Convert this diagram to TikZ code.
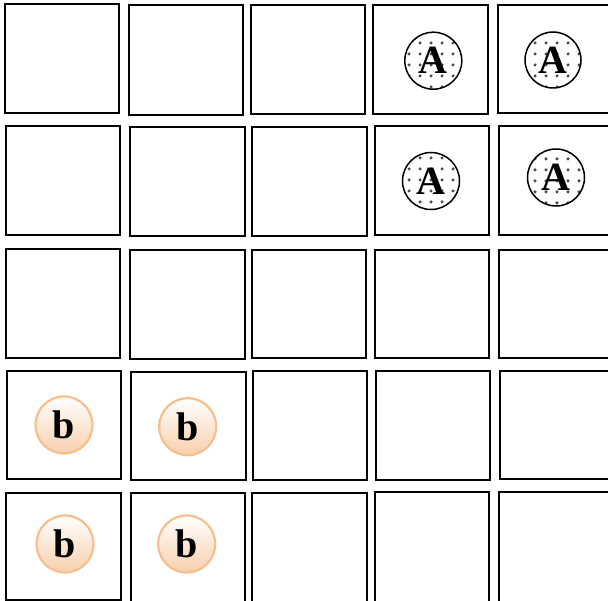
\documentclass[tikz,border=0pt]{standalone}
\usepackage{fontspec}
\setmainfont{Liberation Serif}
\usetikzlibrary{patterns.meta}
\definecolor{peach}{HTML}{F8CFAC}
\definecolor{peachline}{HTML}{F8BF8C}
\tikzset{
  cell/.style={draw=black, line width=2pt},
  acirc/.style={circle, draw=black, line width=1.5pt, minimum size=57pt, inner sep=0pt,
    pattern={Dots[distance=10.5pt, radius=1.8pt]}, pattern color=black!70,
    font=\fontsize{40}{40}\selectfont\bfseries},
  bcirc/.style={circle, draw=peachline, line width=2.2pt, minimum size=57pt, inner sep=0pt,
    top color=white, bottom color=peach, shading angle=0,
    font=\fontsize{40}{40}\selectfont\bfseries}
}
\begin{document}
\begin{tikzpicture}[x=1pt,y=-1pt]
\useasboundingbox (0,0) rectangle (608,601);
\begin{scope}
\clip (0,0) rectangle (608,601);
% row 1
\draw[cell] (4.7,4.3) rectangle (119.3,113.3);
\draw[cell] (129,5.3) rectangle (243.3,114.7);
\draw[cell] (250.7,5.3) rectangle (365.3,114.3);
\draw[cell] (373.3,5) rectangle (488.3,113.7);
\draw[cell] (498.3,5) rectangle (614,113.3);
% row 2
\draw[cell] (5.7,126) rectangle (120.3,235);
\draw[cell] (130,127) rectangle (244.7,236.3);
\draw[cell] (252,127) rectangle (366.7,236);
\draw[cell] (374.7,126.3) rectangle (489.3,235.3);
\draw[cell] (499.3,126) rectangle (614,234.7);
% row 3
\draw[cell] (5.7,249) rectangle (120.3,357.7);
\draw[cell] (130,250.3) rectangle (244.7,359);
\draw[cell] (251.7,250) rectangle (366,358.3);
\draw[cell] (374.7,250) rectangle (489,358.3);
\draw[cell] (499,249.7) rectangle (614,358);
% row 4
\draw[cell] (6.7,370.7) rectangle (121,479);
\draw[cell] (131.3,372) rectangle (245.7,480.3);
\draw[cell] (253,371.3) rectangle (367,480);
\draw[cell] (376,371) rectangle (490.3,480);
\draw[cell] (500,371) rectangle (614,479.3);
% row 5
\draw[cell] (6.2,492.7) rectangle (120.5,600.3);
\draw[cell] (130.6,493) rectangle (245,608);
\draw[cell] (252,492.7) rectangle (366.7,608);
\draw[cell] (375,492.3) rectangle (489,608);
\draw[cell] (499,491.7) rectangle (614,608);
\end{scope}
% A circles
\node[acirc] (a11) at (433.3,60.7) {A};
\node[acirc, minimum size=56pt] (a12) at (553,60) {A};
\node[acirc] (a21) at (431,181) {A};
\node[acirc] (a22) at (556,177.5) {A};
% b circles
\node[bcirc] (b11) at (64,425) {b};
\node[bcirc] (b12) at (187.7,426.7) {b};
\node[bcirc] (b21) at (65,544) {b};
\node[bcirc] (b22) at (186.7,544) {b};
\end{tikzpicture}
\end{document}
